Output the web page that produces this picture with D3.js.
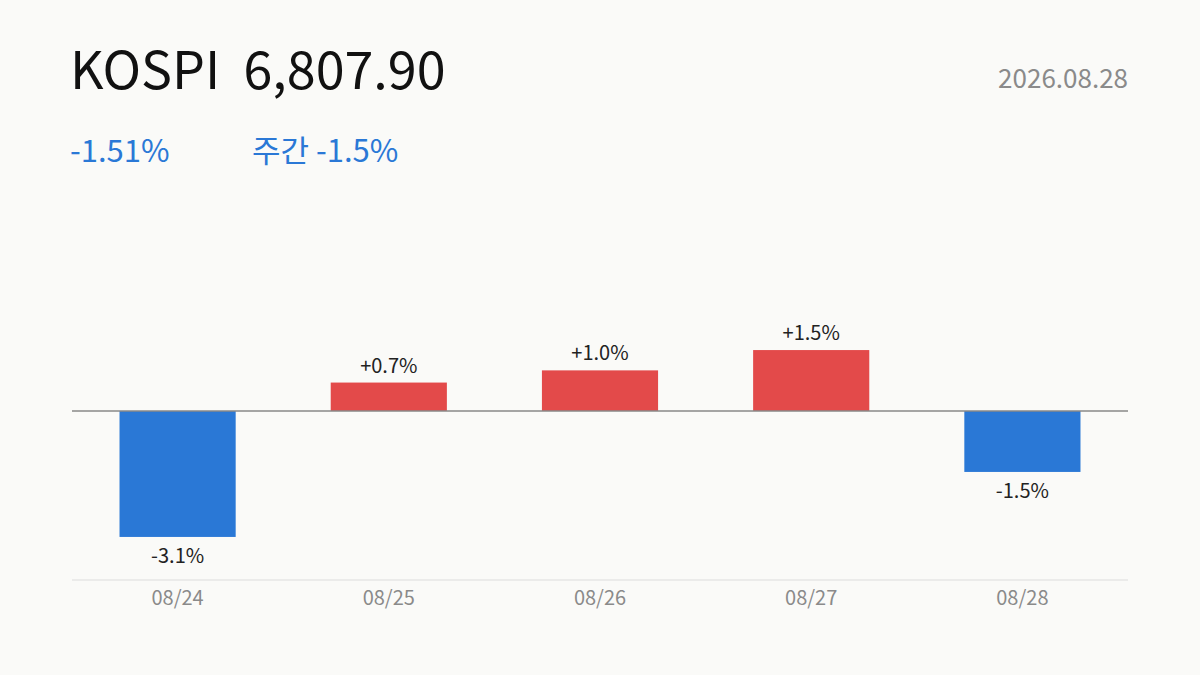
<!DOCTYPE html>
<html><head><meta charset="utf-8">
<script src="https://cdn.jsdelivr.net/npm/d3@7/dist/d3.min.js"></script>
<style>body{margin:0;background:#fafaf8}</style></head>
<body><svg id="c" width="1200" height="675"></svg>
<script>
const dates = ["08/24","08/25","08/26","08/27","08/28"];
const changes = [-3.1, 0.7, 1.0, 1.5, -1.5];
const title = "KOSPI", price = "6,807.90", dateLabel = "2026.08.28";
const dayChange = "-1.51%", weekChange = "주간 -1.5%";
const F = "'Noto Sans CJK KR','Noto Sans',sans-serif";
const svg = d3.select("#c");
svg.append("rect").attr("width",1200).attr("height",675).attr("fill","#fafaf8");
svg.append("text").attr("x",70).attr("y",89).attr("font-family",F).attr("font-size",52).attr("fill","#111")
  .text(title + "\u00a0\u00a0" + price);
svg.append("text").attr("x",1128).attr("y",88).attr("text-anchor","end").attr("font-family",F).attr("font-size",26).attr("fill","#8a8a8a").text(dateLabel);
svg.append("text").attr("x",70).attr("y",162).attr("font-family",F).attr("font-size",31).attr("fill","#2a78d6").text(dayChange);
svg.append("text").attr("x",252).attr("y",162).attr("font-family",F).attr("font-size",31).attr("fill","#2a78d6").text(weekChange);
const x = d3.scaleBand().domain(dates).range([72,1128]).paddingInner(0.45).paddingOuter(0.225);
const y = d3.scaleLinear().domain([-4.16,4.16]).range([580,242]);
svg.append("line").attr("x1",72).attr("x2",1128).attr("y1",580).attr("y2",580).attr("stroke","#dcdcdc");
dates.forEach((d,i)=>{
  const v = changes[i];
  svg.append("rect").attr("x",x(d)).attr("width",x.bandwidth())
    .attr("y",y(Math.max(0,v))).attr("height",Math.abs(y(v)-y(0)))
    .attr("fill", v>=0 ? "#e34a4a" : "#2a78d6");
  svg.append("text").attr("x",x(d)+x.bandwidth()/2).attr("y", v>=0 ? y(v)-10 : y(v)+26)
    .attr("text-anchor","middle").attr("font-family",F).attr("font-size",20).attr("fill","#222")
    .text((v>=0?"+":"")+v.toFixed(1)+"%");
  svg.append("text").attr("x",x(d)+x.bandwidth()/2).attr("y",605).attr("text-anchor","middle")
    .attr("font-family",F).attr("font-size",20).attr("fill","#8a8a8a").text(d);
});
svg.append("line").attr("x1",72).attr("x2",1128).attr("y1",y(0)).attr("y2",y(0)).attr("stroke","#888").attr("stroke-width",1.5);
</script></body></html>
